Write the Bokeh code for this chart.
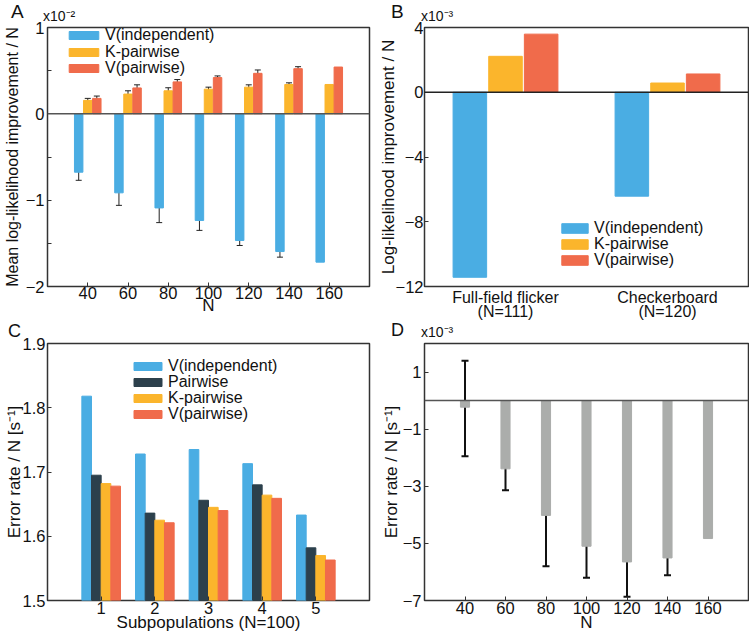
from bokeh.plotting import figure
from bokeh.layouts import row, column
from bokeh.models import (ColumnDataSource, Whisker, TeeHead, Span, Div,
                          FixedTicker, Legend, LegendItem)
from bokeh.embed import file_html
from bokeh.resources import INLINE

# ---------------- data ----------------
# Panel A
a_n = [40, 60, 80, 100, 120, 140, 160]
a_vind = [-0.676, -0.915, -1.09, -1.235, -1.467, -1.595, -1.718]
a_vind_lo = [-0.77, -1.06, -1.26, -1.35, -1.525, -1.66]
a_vind_hi = [-0.58, -0.77, -0.92, -1.12, -1.39, -1.52]
a_kpair = [0.156, 0.229, 0.267, 0.286, 0.309, 0.340, 0.340]
a_kpair_lo = [0.130, 0.191, 0.229, 0.267, 0.282, 0.321]
a_kpair_hi = [0.179, 0.267, 0.302, 0.309, 0.336, 0.359]
a_vpair = [0.179, 0.300, 0.370, 0.420, 0.469, 0.523, 0.542]
a_vpair_lo = [0.156, 0.256, 0.340, 0.393, 0.439, 0.500]
a_vpair_hi = [0.206, 0.336, 0.397, 0.439, 0.508, 0.546]

# Panel B
b_pos = [1, 3]
b_labels = ["Full-field flicker\n(N=111)", "Checkerboard\n(N=120)"]
b_vind = [-11.43, -6.42]
b_kpair = [2.22, 0.57]
b_vpair = [3.59, 1.13]

# Panel C
c_sub = [1, 2, 3, 4, 5]
c_vind = [1.818, 1.728, 1.735, 1.713, 1.633]
c_pair = [1.695, 1.636, 1.656, 1.680, 1.582]
c_kpair = [1.682, 1.625, 1.645, 1.664, 1.570]
c_vpair = [1.678, 1.621, 1.640, 1.659, 1.563]

# Panel D
d_n = [40, 60, 80, 100, 120, 140, 160]
d_val = [-0.23, -2.39, -4.02, -5.10, -5.65, -5.51, -4.83]
d_hi = [1.40, -1.73, -2.29, -4.06, -4.50, -4.99]
d_lo = [-1.95, -3.14, -5.80, -6.20, -6.87, -6.12]

# ---------------- style ----------------
FONT = "Liberation Sans"
BLUE = "#4aade3"
YELLOW = "#fbb52c"
RED = "#f06b4b"
DARK = "#2c404c"
GRAY = "#abadab"
FRAME = "#333333"
TXT = "#111111"
TICK_FS = "16.5px"
LAB_FS = "17px"


def base_fig(w, h, xr, yr, ml, mr, mt, mb):
    p = figure(width=w, height=h, x_range=xr, y_range=yr,
               output_backend="svg", toolbar_location=None,
               min_border_left=ml, min_border_right=mr,
               min_border_top=mt, min_border_bottom=mb)
    p.xgrid.visible = False
    p.ygrid.visible = False
    p.outline_line_color = FRAME
    p.outline_line_width = 1.5
    p.outline_line_alpha = 1
    for ax in (p.xaxis[0], p.yaxis[0]):
        ax.axis_line_color = None
        ax.major_tick_in = 4
        ax.major_tick_out = 0
        ax.minor_tick_in = 4
        ax.minor_tick_out = 0
        ax.major_tick_line_color = FRAME
        ax.minor_tick_line_color = FRAME
        ax.major_label_text_font = FONT
        ax.major_label_text_font_size = TICK_FS
        ax.major_label_text_color = TXT
        ax.axis_label_text_font = FONT
        ax.axis_label_text_font_size = LAB_FS
        ax.axis_label_text_font_style = "normal"
        ax.axis_label_text_color = TXT
    p.xaxis.major_label_standoff = 0
    p.xaxis.axis_label_standoff = -6
    p.yaxis.major_label_standoff = 3
    return p


def header(w, h, items):
    """HTML strip carrying the panel letter and the axis multiplier."""
    spans = []
    for text, left, baseline, fs in items:
        top = baseline - 0.8465 * fs
        spans.append(
            f'<span style="position:absolute;left:{left}px;top:{top:.1f}px;'
            f"font-family:'{FONT}';font-size:{fs}px;line-height:{fs}px;"
            f'color:{TXT};white-space:nowrap;">{text}</span>')
    html = (f'<div style="position:relative;width:{w}px;height:{h}px;">'
            + "".join(spans) + "</div>")
    return Div(text=html, width=w, height=h, margin=(0, 0, 0, 0),
               styles={"overflow": "visible"})


def add_legend(p, entries, x, gw, gh):
    for (label, rend, y) in entries:
        lg = Legend(items=[LegendItem(label=label, renderers=[rend])],
                    location=(x, y), border_line_color=None,
                    background_fill_alpha=0, padding=0, spacing=0, margin=0,
                    label_standoff=3, glyph_width=gw, glyph_height=gh,
                    label_height=16, label_text_font=FONT,
                    label_text_font_size="16px", label_text_color=TXT)
        p.add_layout(lg)


# ---------------- Panel A ----------------
hA = header(375, 21, [("A", 11, 18, 19), ("x10\u207b\u00b2", 43, 21, 14)])
pA = base_fig(375, 303, (20, 180), (-2, 1), 43, 6, 6, 38)
pA.xaxis.ticker = FixedTicker(ticks=a_n)
pA.yaxis.ticker = FixedTicker(ticks=[-2, -1, 0, 1], minor_ticks=[-1.5, -0.5, 0.5])
pA.xaxis.axis_label = "N"
pA.yaxis.axis_label = "Mean log-likelihood improvement / N"
pA.yaxis.axis_label_text_font_size = "16px"
pA.yaxis.axis_label_standoff = 2

xa_b = [n - 4.5 for n in a_n]
xa_y = [n for n in a_n]
xa_r = [n + 4.5 for n in a_n]
rA1 = pA.vbar(x=xa_b, top=a_vind, bottom=0, width=4.2, color=BLUE)
rA2 = pA.vbar(x=xa_y, top=a_kpair, bottom=0, width=4.2, color=YELLOW)
rA3 = pA.vbar(x=xa_r, top=a_vpair, bottom=0, width=4.2, color=RED)
for xs, lo, hi in ((xa_b, a_vind_lo, a_vind_hi), (xa_y, a_kpair_lo, a_kpair_hi),
                   (xa_r, a_vpair_lo, a_vpair_hi)):
    src = ColumnDataSource(dict(x=xs[:len(lo)], lo=lo, hi=hi))
    pA.add_layout(Whisker(source=src, base="x", lower="lo", upper="hi",
                          line_color="#222222", line_width=1,
                          upper_head=TeeHead(size=6, line_color="#222222", line_width=1),
                          lower_head=TeeHead(size=6, line_color="#222222", line_width=1)))
pA.add_layout(Span(location=0, dimension="width", line_color="#555555", line_width=1.5))
add_legend(pA, [("V(independent)", rA1, 242), ("K-pairwise", rA2, 225),
                ("V(pairwise)", rA3, 209)], 18, 37, 10)

# ---------------- Panel B ----------------
hB = header(374, 21, [("B", 16, 18, 19), ("x10\u207b\u00b3", 46, 21, 14)])
pB = base_fig(374, 303, (0, 4), (-12, 4), 46, 1, 6, 38)
pB.xaxis.ticker = FixedTicker(ticks=b_pos)
pB.xaxis.major_label_overrides = {b_pos[0]: b_labels[0], b_pos[1]: b_labels[1]}
pB.xaxis.major_tick_in = 0
pB.xaxis.major_label_text_font_size = "16px"
pB.xaxis.major_label_text_line_height = 0.85
pB.xaxis.major_label_standoff = 2
pB.yaxis.ticker = FixedTicker(ticks=[-12, -8, -4, 0, 4])
pB.yaxis.axis_label = "Log-likelihood improvement / N"
pB.yaxis.major_label_standoff = 1
pB.yaxis.axis_label_standoff = -5
rB1 = pB.vbar(x=[x - 0.44 for x in b_pos], top=b_vind, bottom=0, width=0.414, color=BLUE)
rB2 = pB.vbar(x=b_pos, top=b_kpair, bottom=0, width=0.414, color=YELLOW)
rB3 = pB.vbar(x=[x + 0.44 for x in b_pos], top=b_vpair, bottom=0, width=0.414, color=RED)
pB.add_layout(Span(location=0, dimension="width", line_color="#222222", line_width=1.5))
add_legend(pB, [("V(independent)", rB1, 49), ("K-pairwise", rB2, 33),
                ("V(pairwise)", rB3, 17)], 134, 33, 12)

# ---------------- Panel C ----------------
hC = header(375, 13, [("C", 8, 13, 18)])
pC = base_fig(375, 304, (0, 6), (1.5, 1.9), 43, 1, 6, 41)
pC.xaxis.ticker = FixedTicker(ticks=c_sub)
pC.xaxis.major_label_standoff = 1
pC.xaxis.axis_label_standoff = -4
pC.yaxis.ticker = FixedTicker(ticks=[1.5, 1.6, 1.7, 1.8, 1.9])
pC.yaxis.major_label_standoff = 2
pC.yaxis.axis_label_standoff = -4
pC.xaxis.axis_label = "Subpopulations (N=100)"
pC.yaxis.axis_label = "Error rate / N [s\u207b\u00b9]"
w = 0.18
rC1 = pC.vbar(x=[s - 0.27 for s in c_sub], top=c_vind, bottom=1.5, width=w, color=BLUE)
rC2 = pC.vbar(x=[s - 0.09 for s in c_sub], top=c_pair, bottom=1.5, width=w, color=DARK)
rC3 = pC.vbar(x=[s + 0.09 for s in c_sub], top=c_kpair, bottom=1.5, width=w, color=YELLOW)
rC4 = pC.vbar(x=[s + 0.27 for s in c_sub], top=c_vpair, bottom=1.5, width=w, color=RED)
add_legend(pC, [("V(independent)", rC1, 225), ("Pairwise", rC2, 209),
                ("K-pairwise", rC3, 193), ("V(pairwise)", rC4, 177)], 83, 35, 10)

# ---------------- Panel D ----------------
hD = header(374, 13, [("D", 16, 12.5, 18), ("x10\u207b\u00b3", 46, 13, 14)])
pD = base_fig(374, 304, (20, 180), (-7, 2), 46, 1, 6, 41)
pD.xaxis.ticker = FixedTicker(ticks=d_n)
pD.xaxis.major_label_standoff = 1
pD.xaxis.axis_label_standoff = -4
pD.yaxis.ticker = FixedTicker(ticks=[-7, -5, -3, -1, 1])
pD.yaxis.axis_label_standoff = -1
pD.xaxis.axis_label = "N"
pD.yaxis.axis_label = "Error rate / N [s\u207b\u00b9]"
pD.vbar(x=d_n, top=d_val, bottom=0, width=4.5, color=GRAY)
srcD = ColumnDataSource(dict(x=d_n[:len(d_lo)], lo=d_lo, hi=d_hi))
pD.add_layout(Whisker(source=srcD, base="x", lower="lo", upper="hi",
                      line_color="#111111", line_width=2,
                      upper_head=TeeHead(size=7, line_color="#111111", line_width=2),
                      lower_head=TeeHead(size=7, line_color="#111111", line_width=2)))
pD.add_layout(Span(location=0, dimension="width", line_color="#555555", line_width=1.5))

layout = row(column(hA, pA, hC, pC), column(hB, pB, hD, pD))
open("out.html", "w").write(file_html(layout, INLINE))
